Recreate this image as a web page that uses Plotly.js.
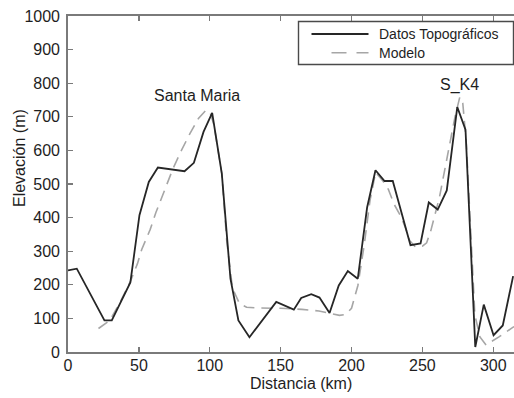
<!DOCTYPE html>
<html>
<head>
<meta charset="utf-8">
<script src="https://cdn.plot.ly/plotly-3.0.1.min.js"></script>
<style>
  html, body { margin: 0; padding: 0; overflow: hidden; background: #fff; }
  #chart { width: 560px; height: 398px; }
</style>
</head>
<body>
<div id="chart"></div>
<script>
// Topographic profile (km, m)
const distTopo = [0, 6.2, 25.7, 30.9, 44, 50.4, 57, 63.4, 82.2, 88.8, 95.6, 101.7, 108.5, 114.6, 120.2, 128,
  146.9, 159.3, 164.5, 171.6, 177.4, 184.5, 191, 197.4, 204.4, 211, 216.9, 223.3, 229.1, 241.6, 248.7,
  254.5, 260.8, 267.2, 274.6, 280.4, 287.3, 293.3, 300.2, 306.7, 314];
const elevTopo = [243, 248, 94, 94, 207, 407, 506, 549, 538, 563, 655, 712, 531, 218, 94, 44,
  149, 126, 161, 172, 162, 116, 198, 241, 218, 430, 541, 509, 509, 318, 323,
  445, 424, 481, 729, 662, 15, 141, 50, 79, 226];

// Model profile (km, m)
const distModel = [21.5, 29.5, 37, 44, 49, 52, 55, 58, 62, 68, 74, 80, 86, 92, 97, 100, 103, 108.5, 112, 116,
  121, 126, 135, 150, 165, 177, 191.5, 196, 200, 204.5, 209, 213, 217, 222, 226, 230, 235, 238, 241, 245,
  250, 253, 256, 262, 269, 273, 276.4, 278.5, 281, 284, 287, 290.6, 294.9, 299, 304, 314, 320];
const elevModel = [70, 94, 150, 210, 263, 305, 335, 365, 415, 480, 545, 600, 650, 695, 718, 716, 675, 531, 330, 190,
  144, 133, 131, 130, 127, 122, 109, 112, 130, 198, 320, 450, 535, 510, 484, 440, 402, 370, 332, 313,
  315, 325, 362, 460, 610, 700, 759, 740, 620, 360, 110, 45, 21, 32, 45, 74, 85];

const seriesNames = ['Datos Topográficos', 'Modelo'];
const peakNames = ['Santa Maria', 'S_K4'];
const peakDist = [91, 276];
const peakElev = [762, 795];
const xTickVals = [0, 50, 100, 150, 200, 250, 300, 350];
const yTickVals = [0, 100, 200, 300, 400, 500, 600, 700, 800, 900, 1000];

// Figure geometry in pixels
const W = 560, H = 398;
const M = { l: 68, r: 28, t: 16, b: 46 };
const plotW = W - M.l - M.r, plotH = H - M.t - M.b;
const px = x => (x - M.l) / plotW;          // pixel x -> paper
const py = y => (H - M.b - y) / plotH;      // pixel y -> paper

const FONT = 'Liberation Sans, Arial, Helvetica, sans-serif';
const TXT = '#1e1e1e';
const AXC = '#7a7a7a';
const topoColor = '#262626';
const modelColor = '#a6a6a6';

const traces = [
  { x: distTopo, y: elevTopo, name: seriesNames[0], type: 'scatter', mode: 'lines',
    line: { color: topoColor, width: 1.8 }, hoverinfo: 'skip' },
  { x: distModel, y: elevModel, name: seriesNames[1], type: 'scatter', mode: 'lines',
    line: { color: modelColor, width: 1.6, dash: '11px,7px' }, hoverinfo: 'skip' }
];
// draw topo on top
const data = [traces[1], traces[0]];

const axisCommon = {
  showgrid: false, zeroline: false, showline: true, linecolor: AXC, linewidth: 1.8,
  ticks: 'inside', ticklen: 5, tickwidth: 1.3, tickcolor: AXC,
  tickfont: { family: FONT, size: 16, color: TXT }
};

// Hand-built legend box with line samples
const legBox = { x0: 298.5, x1: 513.5, y0: 21.5, y1: 64.5 };
const rowY = [34, 52.7];
const shapes = [
  { type: 'rect', xref: 'paper', yref: 'paper', x0: px(legBox.x0), x1: px(legBox.x1),
    y0: py(legBox.y1), y1: py(legBox.y0), line: { color: '#4a4a4a', width: 1.4 }, fillcolor: '#fff' },
  { type: 'line', xref: 'paper', yref: 'paper', x0: px(311.5), x1: px(368.5), y0: py(rowY[0]), y1: py(rowY[0]),
    line: { color: topoColor, width: 1.8 } },
  { type: 'line', xref: 'paper', yref: 'paper', x0: px(331.5), x1: px(368.5), y0: py(rowY[1]), y1: py(rowY[1]),
    line: { color: modelColor, width: 1.6, dash: '15px,10px' } }
];

const annotations = [
  { text: peakNames[0], x: peakDist[0], y: peakElev[0], xref: 'x', yref: 'y', showarrow: false,
    xanchor: 'center', yanchor: 'middle', font: { family: FONT, size: 16, color: TXT } },
  { text: peakNames[1], x: peakDist[1], y: peakElev[1], xref: 'x', yref: 'y', showarrow: false,
    xanchor: 'center', yanchor: 'middle', font: { family: FONT, size: 16, color: TXT } },
  { text: seriesNames[0], x: px(376.5), y: py(rowY[0]), xref: 'paper', yref: 'paper', showarrow: false,
    xanchor: 'left', yanchor: 'middle', font: { family: FONT, size: 14, color: TXT } },
  { text: seriesNames[1], x: px(376.5), y: py(rowY[1]), xref: 'paper', yref: 'paper', showarrow: false,
    xanchor: 'left', yanchor: 'middle', font: { family: FONT, size: 14, color: TXT } },
  // axis titles
  { text: 'Distancia (km)', x: px(300.5), y: py(383.5), xref: 'paper', yref: 'paper', showarrow: false,
    xanchor: 'center', yanchor: 'middle', font: { family: FONT, size: 16, color: TXT } },
  { text: 'Elevación (m)', x: px(19.5), y: py(158.5), xref: 'paper', yref: 'paper', showarrow: false,
    textangle: -90, xanchor: 'center', yanchor: 'middle', font: { family: FONT, size: 16, color: TXT } }
];

const layout = {
  width: W, height: H,
  margin: M,
  paper_bgcolor: '#fff', plot_bgcolor: '#fff',
  showlegend: false,
  font: { family: FONT, color: TXT },
  xaxis: Object.assign({}, axisCommon, {
    range: [0, plotW / 1.4176], tickvals: xTickVals, mirror: 'ticks', ticklabelstandoff: -2
  }),
  yaxis: Object.assign({}, axisCommon, {
    range: [0, 1000], tickvals: yTickVals, mirror: 'ticks', ticklabelstandoff: 3
  }),
  shapes: shapes,
  annotations: annotations
};

Plotly.newPlot('chart', data, layout, { staticPlot: true, displayModeBar: false });
</script>
</body>
</html>
